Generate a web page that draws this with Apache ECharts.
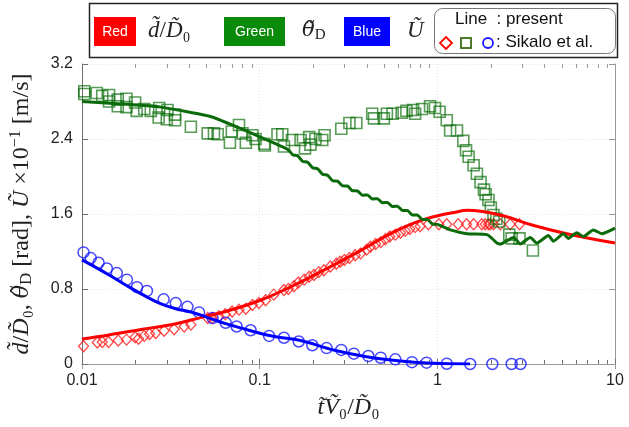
<!DOCTYPE html>
<html lang="en">
<head>
    <meta charset="UTF-8">
    <title>Sikalo comparison</title>
    <script src="https://cdn.jsdelivr.net/npm/echarts@6/dist/echarts.min.js"></script>
</head>
<body style="margin:0;">
    <div id="ech" style="width:629px;height:427px;"></div>
    <script>
        // x = t V0 / D0 (log), y = value
        let yTicks = [0, 0.8, 1.6, 2.4, 3.2];
        let xTickLabels = ['0.01', '0.1', '1', '10'];

        // present (lines)
        let redLine = [[0.01, 0.267], [0.0142, 0.31], [0.0219, 0.37], [0.0337, 0.43], [0.0476, 0.50], [0.0644, 0.56],
            [0.101, 0.68], [0.156, 0.84], [0.24, 1.02], [0.37, 1.21], [0.57, 1.41], [0.87, 1.55], [1.34, 1.63],
            [1.47, 1.64], [2.25, 1.59], [3.45, 1.48], [5.35, 1.39], [10, 1.29]];
        let blueLine = [[0.01, 1.11], [0.0142, 0.95], [0.0177, 0.84], [0.0219, 0.74], [0.0272, 0.65], [0.0337, 0.59],
            [0.0419, 0.55], [0.052, 0.49], [0.0644, 0.43], [0.08, 0.38], [0.099, 0.33], [0.123, 0.29], [0.17, 0.25],
            [0.26, 0.15], [0.40, 0.078], [0.62, 0.032], [0.95, 0.007], [1.53, 0]];
        let greenLine = [[0.01, 2.80], [0.018, 2.77], [0.0278, 2.74], [0.0392, 2.69], [0.053, 2.64], [0.072, 2.54],
            [0.101, 2.42], [0.1437, 2.29], [0.1533, 2.233], [0.1635, 2.222], [0.1745, 2.163], [0.1861, 2.152],
            [0.1986, 2.094], [0.2118, 2.083], [0.226, 2.024], [0.2411, 2.014], [0.2572, 1.955], [0.2744, 1.95],
            [0.2927, 1.90], [0.3122, 1.898], [0.3331, 1.848], [0.3553, 1.846], [0.3791, 1.80], [0.4044, 1.804],
            [0.4314, 1.76], [0.4602, 1.764], [0.491, 1.72], [0.5238, 1.724], [0.5588, 1.68], [0.5961, 1.684],
            [0.6359, 1.638], [0.6784, 1.638], [0.7237, 1.59], [0.772, 1.59], [0.8236, 1.542], [0.8786, 1.542],
            [0.9373, 1.493], [1.0, 1.49], [1.183, 1.43], [1.469, 1.39], [1.902, 1.38], [2.03, 1.34], [2.165, 1.29],
            [2.259, 1.28], [2.684, 1.35], [2.927, 1.28], [3.331, 1.35], [3.632, 1.29], [4.221, 1.37], [4.502, 1.31],
            [5.124, 1.39], [5.464, 1.34], [6.093, 1.40], [6.636, 1.36], [7.553, 1.43], [8.42, 1.39], [10, 1.45]];

        // Sikalo et al. (symbols)
        let redDiamonds = [[0.0102, 0.19], [0.0122, 0.23], [0.013, 0.235], [0.0141, 0.235], [0.016, 0.25], [0.0178, 0.26],
            [0.0199, 0.285], [0.0208, 0.27], [0.0224, 0.30], [0.024, 0.32], [0.026, 0.33], [0.029, 0.355], [0.033, 0.37],
            [0.0376, 0.40], [0.041, 0.42], [0.051, 0.49], [0.054, 0.49], [0.059, 0.51], [0.064, 0.53], [0.070, 0.56],
            [0.0765, 0.58], [0.0836, 0.59], [0.091, 0.63], [0.099, 0.65], [0.108, 0.68], [0.12, 0.74], [0.137, 0.79],
            [0.145, 0.80], [0.156, 0.83], [0.165, 0.87], [0.178, 0.90], [0.19, 0.93], [0.202, 0.95], [0.215, 0.98],
            [0.23, 1.00], [0.25, 1.04], [0.27, 1.07], [0.284, 1.09], [0.30, 1.11], [0.32, 1.13], [0.345, 1.16],
            [0.37, 1.18], [0.40, 1.22], [0.42, 1.25], [0.45, 1.28], [0.48, 1.30], [0.51, 1.33], [0.54, 1.36],
            [0.58, 1.38], [0.62, 1.40], [0.66, 1.42], [0.70, 1.44], [0.75, 1.46], [0.80, 1.47], [0.89, 1.49],
            [1.02, 1.49], [1.13, 1.49], [1.31, 1.49], [1.46, 1.49], [1.60, 1.49], [1.78, 1.49], [1.86, 1.49],
            [1.94, 1.49], [1.98, 1.49], [2.07, 1.49], [2.26, 1.49], [2.57, 1.49], [2.9, 1.49]];
        let greenSquares = [[0.0103, 2.91], [0.0103, 2.88], [0.0121, 2.89], [0.013, 2.86], [0.0142, 2.87], [0.0142, 2.80],
            [0.0159, 2.82], [0.0159, 2.75], [0.0178, 2.83], [0.0178, 2.74], [0.0199, 2.79], [0.0203, 2.70], [0.0224, 2.72],
            [0.0244, 2.70], [0.0272, 2.73], [0.027, 2.63], [0.0303, 2.71], [0.030, 2.61], [0.0334, 2.66], [0.0334, 2.60],
            [0.041, 2.53], [0.051, 2.46], [0.0553, 2.46], [0.058, 2.45], [0.068, 2.36], [0.0697, 2.48], [0.0765, 2.55],
            [0.08, 2.46], [0.0836, 2.36], [0.091, 2.44], [0.0948, 2.40], [0.106, 2.35], [0.107, 2.33], [0.126, 2.45],
            [0.134, 2.45], [0.137, 2.32], [0.152, 2.39], [0.17, 2.39], [0.18, 2.30], [0.19, 2.42], [0.193, 2.34],
            [0.206, 2.40], [0.225, 2.39], [0.232, 2.44], [0.288, 2.51], [0.32, 2.57], [0.35, 2.57], [0.43, 2.67],
            [0.44, 2.62], [0.50, 2.62], [0.52, 2.67], [0.56, 2.67], [0.63, 2.68], [0.67, 2.70], [0.73, 2.71],
            [0.75, 2.67], [0.82, 2.72], [0.91, 2.75], [0.97, 2.73], [1.03, 2.69], [1.13, 2.60], [1.18, 2.49],
            [1.29, 2.49], [1.40, 2.38], [1.45, 2.28], [1.50, 2.21], [1.60, 2.12], [1.67, 2.03], [1.75, 1.94],
            [1.83, 1.86], [1.87, 1.81], [1.94, 1.75], [2.0, 1.67], [2.07, 1.59], [2.15, 1.55], [2.23, 1.52],
            [2.54, 1.38], [2.62, 1.34], [2.9, 1.34], [3.45, 1.21]];
        let blueCircles = [[0.0102, 1.19], [0.0112, 1.13], [0.0124, 1.08], [0.0138, 1.02], [0.0157, 0.97], [0.0179, 0.90],
            [0.0204, 0.82], [0.0232, 0.78], [0.0288, 0.69], [0.0337, 0.65], [0.0392, 0.61], [0.0456, 0.55], [0.0543, 0.49],
            [0.0644, 0.44], [0.0742, 0.40], [0.0889, 0.36], [0.113, 0.30], [0.137, 0.28], [0.166, 0.24], [0.198, 0.20],
            [0.238, 0.17], [0.288, 0.15], [0.339, 0.11], [0.409, 0.085], [0.48, 0.067], [0.58, 0.05], [0.72, 0.02],
            [0.87, 0.014], [1.13, 0.003], [1.53, 0], [2.04, 0], [2.62, 0], [2.94, 0]];

        let sans = 'Liberation Sans';
        let serif = 'Liberation Serif';
        let greek = 'DejaVu Serif';
        let axisCol = '#707070';

        let ech = document.getElementById('ech');
        let my_echart = echarts.init(ech);

        let option = {
            animation: false,
            backgroundColor: '#fff',
            grid: { left: 81, right: 14, top: 64, bottom: 63 },
            xAxis: [{
                type: 'log', logBase: 10, min: 0.01, max: 10,
                name: '{i|t\u0303V\u0303}{r|\u2080}{r|/}{i|D\u0303}{r|\u2080}',
                nameLocation: 'middle', nameGap: 32,
                nameTextStyle: {
                    rich: {
                        i: { fontFamily: serif, fontStyle: 'italic', fontSize: 24, color: '#222' },
                        r: { fontFamily: serif, fontSize: 24, color: '#222' }
                    }
                },
                axisLine: { lineStyle: { color: axisCol, width: 1 } },
                axisTick: { inside: true, length: 5, lineStyle: { color: axisCol } },
                axisLabel: {
                    fontFamily: sans, fontSize: 16, color: '#222', margin: 9,
                    formatter: function (v) {
                        let idx = Math.round(Math.log10(v)) + 2;
                        return xTickLabels[idx];
                    }
                },
                splitLine: { show: true, lineStyle: { color: '#e4e4e4', type: [1, 2] } }
            }, {
                type: 'log', logBase: 10, min: 0.01, max: 10, position: 'top',
                axisLine: { lineStyle: { color: '#999' } },
                axisTick: { inside: true, length: 5, lineStyle: { color: '#999' } },
                axisLabel: { show: false },
                splitLine: { show: false }
            }],
            yAxis: [{
                type: 'value', min: yTicks[0], max: yTicks[yTicks.length - 1], interval: 0.8,
                name: '{i|d\u0303}{r|/}{i|D\u0303}{r|\u2080, }{g|\u03B8\u0303}{s|D}{r| [rad], }{i|U\u0303}{r| \u00D710}{p|\u22121}{r| [m/s]}',
                nameLocation: 'middle', nameGap: 46, nameRotate: 90,
                nameTextStyle: {
                    rich: {
                        i: { fontFamily: serif, fontStyle: 'italic', fontSize: 24, color: '#222' },
                        g: { fontFamily: greek, fontStyle: 'italic', fontSize: 22, color: '#222' },
                        r: { fontFamily: serif, fontSize: 24, color: '#222' },
                        s: { fontFamily: serif, fontSize: 17, color: '#222', padding: [10, 0, 0, 0] },
                        p: { fontFamily: serif, fontSize: 16, color: '#222', padding: [0, 0, 12, 0] }
                    }
                },
                axisLine: { show: true, lineStyle: { color: axisCol, width: 1 } },
                axisTick: { show: true, inside: true, length: 6, lineStyle: { color: axisCol } },
                axisLabel: {
                    fontFamily: sans, fontSize: 16, color: '#222', margin: 9,
                    formatter: function (v) { return v === 0 ? '0' : v.toFixed(1); }
                },
                splitLine: { show: true, lineStyle: { color: '#e4e4e4', type: [1, 2] } }
            }, {
                type: 'value', min: yTicks[0], max: yTicks[yTicks.length - 1], interval: 0.8, position: 'right',
                axisLine: { show: true, lineStyle: { color: '#999' } },
                axisTick: { show: true, inside: true, length: 6, lineStyle: { color: '#999' } },
                axisLabel: { show: false },
                splitLine: { show: false }
            }],
            series: [{
                name: 'Sikalo d/D0', type: 'scatter', data: redDiamonds, symbol: 'diamond', symbolSize: [10, 11],
                itemStyle: { color: 'transparent', borderColor: '#ff1a1a', borderWidth: 1.3 }, z: 2
            }, {
                name: 'Sikalo theta', type: 'scatter', data: greenSquares, symbol: 'rect', symbolSize: 11,
                itemStyle: { color: 'transparent', borderColor: 'rgba(10,110,10,0.85)', borderWidth: 1.6 }, z: 2
            }, {
                name: 'Sikalo U', type: 'scatter', data: blueCircles, symbol: 'circle', symbolSize: 11,
                itemStyle: { color: 'transparent', borderColor: '#1a1aff', borderWidth: 1.5 }, z: 2
            }, {
                name: 'present d/D0', type: 'line', data: redLine, smooth: 0.4, showSymbol: false,
                lineStyle: { color: '#ff0000', width: 3 }, z: 3
            }, {
                name: 'present theta', type: 'line', data: greenLine, smooth: 0.2, showSymbol: false,
                lineStyle: { color: '#0b6b0b', width: 3 }, z: 3
            }, {
                name: 'present U', type: 'line', data: blueLine, smooth: 0.4, showSymbol: false,
                lineStyle: { color: '#0000ff', width: 3 }, z: 3
            }]
        };
        my_echart.setOption(option);

        // minor ticks of the log axis (2..9 in each decade), top and bottom
        let graphics = [];
        let yTop = my_echart.convertToPixel({ yAxisIndex: 0 }, yTicks[yTicks.length - 1]);
        let yBot = my_echart.convertToPixel({ yAxisIndex: 0 }, yTicks[0]);
        [0.01, 0.1, 1].forEach(function (dec) {
            for (let k = 2; k <= 9; k++) {
                let px = Math.round(my_echart.convertToPixel({ xAxisIndex: 0 }, dec * k)) + 0.5;
                graphics.push({ type: 'line', shape: { x1: px, y1: yBot, x2: px, y2: yBot - 4 }, style: { stroke: axisCol, lineWidth: 1 } });
                graphics.push({ type: 'line', shape: { x1: px, y1: yTop, x2: px, y2: yTop + 4 }, style: { stroke: '#999', lineWidth: 1 } });
            }
        });

        // legend box
        let lg = [
            { type: 'rect', shape: { x: 89.5, y: 3.5, width: 528, height: 54 }, style: { fill: '#fff', stroke: '#222', lineWidth: 1.5 } },
            { type: 'rect', shape: { x: 94, y: 17, width: 42, height: 29 }, style: { fill: '#ff0000' } },
            { type: 'text', x: 115, y: 32, style: { text: 'Red', fill: '#fff', font: '14px ' + sans, align: 'center', verticalAlign: 'middle' } },
            { type: 'text', x: 148, y: 31, style: { text: '{i|d\u0303}{r|/}{i|D\u0303}{r|\u2080}', verticalAlign: 'middle', rich: { i: { fontFamily: serif, fontStyle: 'italic', fontSize: 23, fill: '#222' }, r: { fontFamily: serif, fontSize: 23, fill: '#222' } } } },
            { type: 'rect', shape: { x: 224, y: 17, width: 61, height: 29 }, style: { fill: '#0a8a0a' } },
            { type: 'text', x: 254.5, y: 32, style: { text: 'Green', fill: '#fff', font: '14px ' + sans, align: 'center', verticalAlign: 'middle' } },
            { type: 'text', x: 302, y: 31, style: { text: '{g|\u03B8\u0303}{s|D}', verticalAlign: 'middle', rich: { g: { fontFamily: greek, fontStyle: 'italic', fontSize: 21, fill: '#222' }, s: { fontFamily: serif, fontSize: 15, fill: '#222', padding: [8, 0, 0, 0] } } } },
            { type: 'rect', shape: { x: 344, y: 17, width: 46, height: 29 }, style: { fill: '#0000ff' } },
            { type: 'text', x: 367, y: 32, style: { text: 'Blue', fill: '#fff', font: '14px ' + sans, align: 'center', verticalAlign: 'middle' } },
            { type: 'text', x: 407, y: 31, style: { text: 'U\u0303', fill: '#222', font: 'italic 23px ' + serif, verticalAlign: 'middle' } },
            { type: 'rect', shape: { x: 434.5, y: 8.5, width: 181, height: 45, r: 8 }, style: { fill: 'none', stroke: '#777', lineWidth: 1 } },
            { type: 'text', x: 455, y: 19, style: { text: 'Line  : present', fill: '#111', font: '17px ' + sans, verticalAlign: 'middle' } },
            { type: 'polygon', shape: { points: [[446, 37], [452, 43], [446, 49], [440, 43]] }, style: { fill: 'none', stroke: '#ff0000', lineWidth: 1.8 } },
            { type: 'rect', shape: { x: 461, y: 38, width: 10, height: 10 }, style: { fill: 'none', stroke: '#4a7a2a', lineWidth: 2 } },
            { type: 'circle', shape: { cx: 488, cy: 43, r: 5 }, style: { fill: 'none', stroke: '#1a1aff', lineWidth: 1.8 } },
            { type: 'text', x: 496, y: 42, style: { text: ': Sikalo et al.', fill: '#111', font: '17px ' + sans, verticalAlign: 'middle' } }
        ];
        my_echart.setOption({ graphic: graphics.concat(lg) });
    </script>
</body>
</html>
